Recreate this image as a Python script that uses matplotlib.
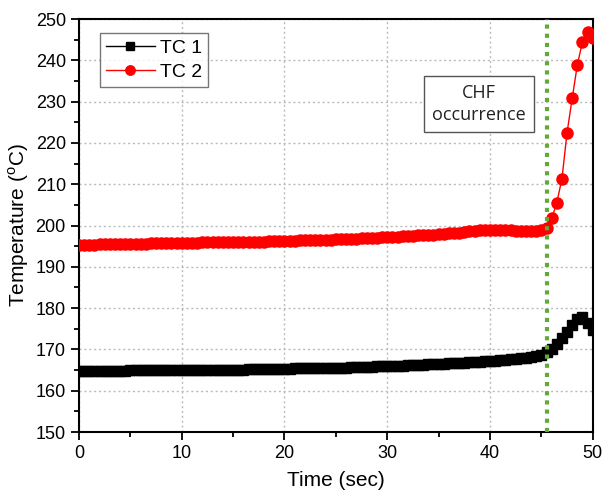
import matplotlib
matplotlib.use("Agg")
import matplotlib.pyplot as plt
from matplotlib.ticker import MultipleLocator

plt.rcParams["font.family"] = ["Liberation Sans", "DejaVu Sans"]
plt.rcParams["mathtext.fontset"] = "custom"
plt.rcParams["mathtext.rm"] = "Liberation Sans"

# time samples of the logger (sec), 0.5 s interval
time_dense = [
    0.0, 0.5, 1.0, 1.5, 2.0, 2.5, 3.0, 3.5, 4.0, 4.5,
    5.0, 5.5, 6.0, 6.5, 7.0, 7.5, 8.0, 8.5, 9.0, 9.5,
    10.0, 10.5, 11.0, 11.5, 12.0, 12.5, 13.0, 13.5, 14.0, 14.5,
    15.0, 15.5, 16.0, 16.5, 17.0, 17.5, 18.0, 18.5, 19.0, 19.5,
    20.0, 20.5, 21.0, 21.5, 22.0, 22.5, 23.0, 23.5, 24.0, 24.5,
    25.0, 25.5, 26.0, 26.5, 27.0, 27.5, 28.0, 28.5, 29.0, 29.5,
    30.0, 30.5, 31.0, 31.5, 32.0, 32.5, 33.0, 33.5, 34.0, 34.5,
    35.0, 35.5, 36.0, 36.5, 37.0, 37.5, 38.0, 38.5, 39.0, 39.5,
    40.0, 40.5, 41.0, 41.5, 42.0, 42.5, 43.0, 43.5, 44.0, 44.5,
    45.0,
]
time_tail = [45.5, 46.0, 46.5, 47.0, 47.5, 48.0, 48.5, 49.0, 49.5, 50.0]

tc1_dense = [
    164.8, 164.8, 164.8, 164.8, 164.8, 164.8, 164.8, 164.8, 164.8, 164.8,
    164.9, 164.9, 164.9, 164.9, 164.9, 164.9, 164.9, 164.9, 164.9, 164.9,
    165.0, 165.0, 165.0, 165.0, 165.0, 165.0, 165.0, 165.1, 165.1, 165.1,
    165.1, 165.1, 165.1, 165.2, 165.2, 165.2, 165.2, 165.2, 165.3, 165.3,
    165.3, 165.3, 165.4, 165.4, 165.4, 165.4, 165.5, 165.5, 165.5, 165.5,
    165.6, 165.6, 165.6, 165.7, 165.7, 165.7, 165.8, 165.8, 165.9, 165.9,
    166.0, 166.0, 166.1, 166.1, 166.2, 166.2, 166.3, 166.3, 166.4, 166.4,
    166.5, 166.5, 166.6, 166.7, 166.7, 166.8, 166.9, 166.9, 167.0, 167.1,
    167.2, 167.3, 167.4, 167.5, 167.6, 167.7, 167.9, 168.0, 168.2, 168.4,
    168.7,
]
tc1_tail = [169.3, 170.2, 171.3, 172.8, 174.3, 175.8, 177.3, 177.8, 176.3, 174.8]

tc2_dense = [
    195.4, 195.4, 195.4, 195.4, 195.5, 195.5, 195.5, 195.5, 195.5, 195.6,
    195.6, 195.6, 195.6, 195.6, 195.7, 195.7, 195.7, 195.7, 195.7, 195.8,
    195.8, 195.8, 195.8, 195.8, 195.9, 195.9, 195.9, 195.9, 195.9, 196.0,
    196.0, 196.0, 196.0, 196.1, 196.1, 196.1, 196.1, 196.2, 196.2, 196.2,
    196.3, 196.3, 196.3, 196.4, 196.4, 196.5, 196.5, 196.5, 196.6, 196.6,
    196.7, 196.7, 196.7, 196.8, 196.8, 196.9, 196.9, 197.0, 197.0, 197.1,
    197.2, 197.2, 197.3, 197.4, 197.4, 197.5, 197.6, 197.7, 197.8, 197.8,
    197.9, 198.0, 198.1, 198.2, 198.3, 198.4, 198.6, 198.7, 198.8, 198.9,
    198.9, 198.9, 198.8, 198.8, 198.8, 198.7, 198.7, 198.7, 198.7, 198.7,
    198.8,
]
tc2_tail = [199.4, 201.7, 205.5, 211.3, 222.5, 230.8, 238.9, 244.5, 246.8, 245.3]

chf_time = 45.5

fig = plt.figure(figsize=(6.03, 4.94), dpi=100)
ax = fig.add_axes([0.131, 0.1255, 0.852, 0.836])

ax.plot(time_dense + time_tail, tc1_dense + tc1_tail, color="black", lw=1,
        marker="s", markersize=7, label="TC 1", zorder=3)
ax.plot(time_dense + time_tail, tc2_dense + tc2_tail, color="red", lw=1,
        marker="o", markersize=8, label="TC 2", zorder=3)

# CHF marker line
ax.axvline(chf_time, color="#62aa38", lw=3, linestyle=(0, (1, 1.2)), zorder=4)

ax.text(38.9, 229.4, "CHF\noccurrence", ha="center", va="center",
        fontsize=13, family=["Open Sans", "DejaVu Sans"], linespacing=1.25,
        color="#222222",
        bbox=dict(boxstyle="square,pad=0.45", facecolor="white",
                  edgecolor="#555555", lw=1))

ax.set_xlim(0, 50)
ax.set_ylim(150, 250)
ax.xaxis.set_major_locator(MultipleLocator(10))
ax.xaxis.set_minor_locator(MultipleLocator(5))
ax.yaxis.set_major_locator(MultipleLocator(10))
ax.yaxis.set_minor_locator(MultipleLocator(5))
ax.tick_params(which="major", direction="out", length=6, width=1.3, labelsize=13)
ax.tick_params(which="minor", direction="out", length=3.5, width=1.3)
ax.grid(True, which="major", color="#bbbbbb", linestyle=(0, (1.5, 2)), lw=1)
for sp in ax.spines.values():
    sp.set_linewidth(1.5)

ax.set_xlabel("Time (sec)", fontsize=15, labelpad=6)
ax.set_ylabel("Temperature ($^{\\mathrm{o}}$C)", fontsize=15, labelpad=3)

leg = ax.legend(loc="upper left", bbox_to_anchor=(0.041, 0.966), fontsize=14,
                frameon=True, fancybox=False, edgecolor="#555555",
                handlelength=2.5, borderpad=0.3, borderaxespad=0,
                labelspacing=0.35, handletextpad=0.3, markerscale=0.85)
leg.get_frame().set_linewidth(1)

fig.savefig("out.png", dpi=100)
